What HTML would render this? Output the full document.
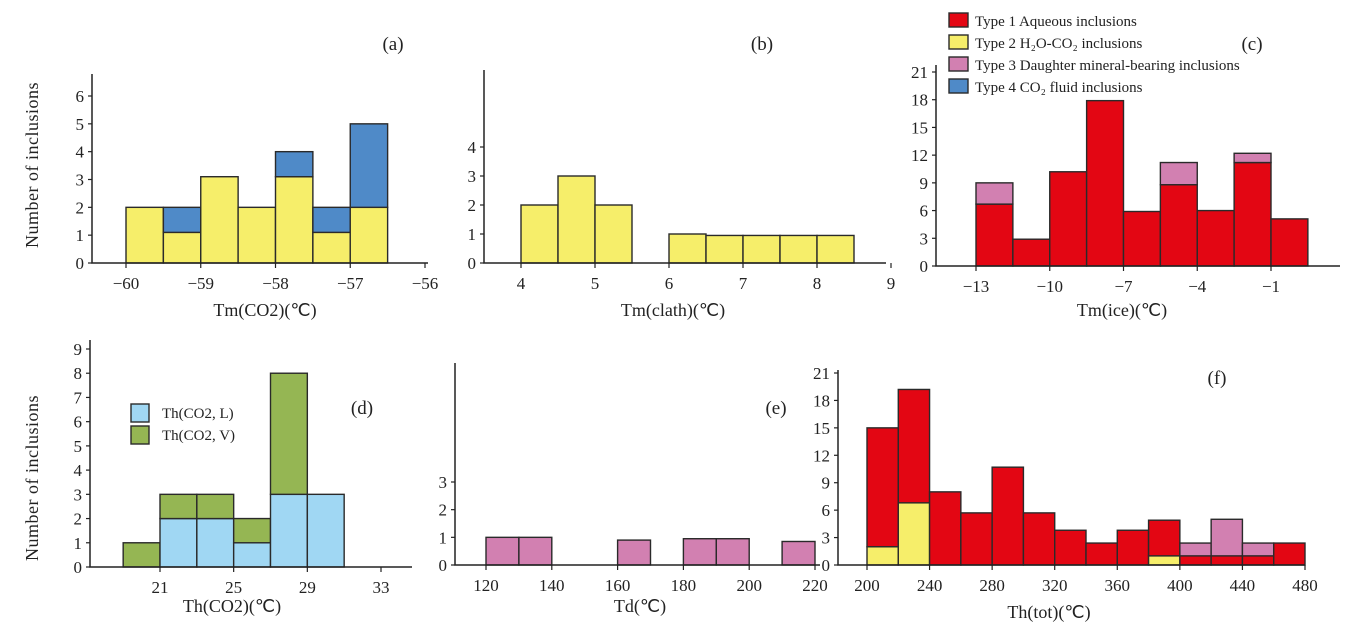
<!DOCTYPE html>
<html><head><meta charset="utf-8">
<style>
html,body{margin:0;padding:0;background:#fff;width:1366px;height:630px;overflow:hidden}
svg text{font-family:"Liberation Serif",serif;fill:#222}
</style></head>
<body>
<svg id="fig" width="1366" height="630" viewBox="0 0 1366 630" xmlns="http://www.w3.org/2000/svg">
<rect width="1366" height="630" fill="#fff"/>
</svg>
<script>
// ---------- DATA ----------
// (a) Tm(CO2)
const aBins = [-60,-59.5,-59,-58.5,-58,-57.5,-57];
const aType2 = [2,1.1,3.1,2,3.1,1.1,2];
const aType4 = [0,0.9,0,0,0.9,0.9,3];
const aXTicks = [-60,-59,-58,-57,-56];
const aYTicks = [0,1,2,3,4,5,6];
// (b) Tm(clath)
const bBins = [4,4.5,5,6,6.5,7,7.5,8];
const bType2 = [2,3,2,1,0.95,0.95,0.95,0.95];
const bXTicks = [4,5,6,7,8,9];
const bYTicks = [0,1,2,3,4];
// (c) Tm(ice)
const cBins = [-13,-11.5,-10,-8.5,-7,-5.5,-4,-2.5,-1];
const cType1 = [6.7,2.9,10.2,17.9,5.9,8.8,6,11.2,5.1];
const cType3 = [2.3,0,0,0,0,2.4,0,1,0];
const cXTicks = [-13,-10,-7,-4,-1];
const cYTicks = [0,3,6,9,12,15,18,21];
// (d) Th(CO2)
const dBins = [19,21,23,25,27,29];
const dLiquid = [0,2,2,1,3,3];
const dVapor = [1,1,1,1,5,0];
const dXTicks = [21,25,29,33];
const dYTicks = [0,1,2,3,4,5,6,7,8,9];
// (e) Td
const eBins = [120,130,160,180,190,210];
const eType3 = [1,1,0.9,0.95,0.95,0.85];
const eXTicks = [120,140,160,180,200,220];
const eYTicks = [0,1,2,3];
// (f) Th(tot)
const fBins = [200,220,240,260,280,300,320,340,360,380,400,420,440,460];
const fType2 = [2,6.8,0,0,0,0,0,0,0,1,0,0,0,0];
const fType1 = [13,12.4,8,5.7,10.7,5.7,3.8,2.4,3.8,3.9,1,1,1,2.4];
const fType3 = [0,0,0,0,0,0,0,0,0,0,1.4,4,1.4,0];
const fXTicks = [200,240,280,320,360,400,440,480];
const fYTicks = [0,3,6,9,12,15,18,21];

const C = {red:'#e30613',yellow:'#f6ee6a',pink:'#d280b1',blue:'#4f8ac8',lblue:'#a0d7f3',green:'#95b653',stroke:'#2a2a2a'};
const svg = document.getElementById('fig');
const NS='http://www.w3.org/2000/svg';
function el(tag, attrs, parent){
  const e=document.createElementNS(NS,tag);
  for(const k in attrs) e.setAttribute(k,attrs[k]);
  (parent||svg).appendChild(e); return e;
}
function txt(s,x,y,size,anchor,parent){
  const t=el('text',{x:x,y:y,'font-size':size,'text-anchor':anchor||'middle'},parent);
  t.textContent=s; return t;
}
function fmt(v){return v<0?'\u2212'+Math.abs(v):String(v);}

function panel(id, cfg){
  const g=el('g',{});
  
  
  const xs=v=>cfg.x0px+(v-cfg.x0)*(cfg.x1px-cfg.x0px)/(cfg.x1-cfg.x0);
  const ys=v=>cfg.base-(v)*(cfg.base-cfg.ytopPx)/cfg.ytop;
  // bars
  cfg.bins.forEach((b,i)=>{
    let acc=0;
    cfg.series.forEach(s=>{
      const v=s.vals[i]; if(!v) return;
      const r=el('rect',{x:xs(b),y:ys(acc+v),width:xs(b+cfg.bw)-xs(b),height:ys(acc)-ys(acc+v),fill:s.color,stroke:C.stroke,'stroke-width':1.4},g);
      
      
      acc+=v;
    });
  });
  // axes
  const ax=el('path',{d:`M${cfg.axX},${cfg.axTop} L${cfg.axX},${cfg.base} L${cfg.axRight},${cfg.base}`,fill:'none',stroke:'#222','stroke-width':1.5},g);
  
  
  cfg.yTicks.forEach(v=>{
    const y=ys(v);
    el('line',{x1:cfg.axX-4,x2:cfg.axX,y1:y,y2:y,stroke:'#222','stroke-width':1.2},g);
    const t=txt(String(v),cfg.axX-8,y+6,17,'end',g);
    
    
  });
  cfg.xTicks.forEach(v=>{
    const x=xs(v);
    el('line',{x1:x,x2:x,y1:cfg.base,y2:cfg.base+5,stroke:'#222','stroke-width':1.2},g);
    const t=txt(fmt(v),x,cfg.base+26,17,'middle',g);
    
    
  });
  const xt=txt(cfg.xTitle,cfg.titleX,cfg.titleY,18,'middle',g);
  
  
  const pl=txt(cfg.label,cfg.labX,cfg.labY,19,'middle',g);
  
  
}

panel('a',{bins:aBins,bw:0.5,series:[{name:'type2',vals:aType2,color:C.yellow},{name:'type4',vals:aType4,color:C.blue}],
  x0:-60,x1:-56,x0px:126,x1px:425,ytop:6,ytopPx:96,base:263,axX:92,axTop:74,axRight:428,
  xTicks:aXTicks,yTicks:aYTicks,xTitle:'Tm(CO2)(\u2103)',titleX:265,titleY:316,label:'(a)',labX:393,labY:50});
panel('b',{bins:bBins,bw:0.5,series:[{name:'type2',vals:bType2,color:C.yellow}],
  x0:4,x1:9,x0px:521,x1px:891,ytop:4,ytopPx:147,base:263,axX:484,axTop:70,axRight:886,
  xTicks:bXTicks,yTicks:bYTicks,xTitle:'Tm(clath)(\u2103)',titleX:673,titleY:316,label:'(b)',labX:762,labY:50});
panel('c',{bins:cBins,bw:1.5,series:[{name:'type1',vals:cType1,color:C.red},{name:'type3',vals:cType3,color:C.pink}],
  x0:-13,x1:-1,x0px:976,x1px:1271,ytop:21,ytopPx:72,base:266,axX:936,axTop:65,axRight:1340,
  xTicks:cXTicks,yTicks:cYTicks,xTitle:'Tm(ice)(\u2103)',titleX:1122,titleY:316,label:'(c)',labX:1252,labY:50});
panel('d',{bins:dBins,bw:2,series:[{name:'liquid',vals:dLiquid,color:C.lblue},{name:'vapor',vals:dVapor,color:C.green}],
  x0:21,x1:33,x0px:160,x1px:381,ytop:9,ytopPx:349,base:567,axX:90,axTop:340,axRight:412,
  xTicks:dXTicks,yTicks:dYTicks,xTitle:'Th(CO2)(\u2103)',titleX:232,titleY:612,label:'(d)',labX:362,labY:414});
panel('e',{bins:eBins,bw:10,series:[{name:'type3',vals:eType3,color:C.pink}],
  x0:120,x1:220,x0px:486,x1px:815,ytop:3,ytopPx:482,base:565,axX:455,axTop:363,axRight:820,
  xTicks:eXTicks,yTicks:eYTicks,xTitle:'Td(\u2103)',titleX:640,titleY:612,label:'(e)',labX:776,labY:414});
panel('f',{bins:fBins,bw:20,series:[{name:'type2',vals:fType2,color:C.yellow},{name:'type1',vals:fType1,color:C.red},{name:'type3',vals:fType3,color:C.pink}],
  x0:200,x1:480,x0px:867,x1px:1305,ytop:21,ytopPx:373,base:565,axX:838,axTop:370,axRight:1305,
  xTicks:fXTicks,yTicks:fYTicks,xTitle:'Th(tot)(\u2103)',titleX:1049,titleY:618,label:'(f)',labX:1217,labY:384});

// y-axis titles
[165,478].forEach(cy=>{
  const t=el('text',{x:0,y:0,'font-size':18,'text-anchor':'middle',transform:`translate(38,${cy}) rotate(-90)`,'letter-spacing':'0.5'});
  t.textContent='Number of inclusions';
  
  
});

// legend (top)
const legItems=[['Type 1 Aqueous inclusions',C.red],['Type 2 H\u2082O-CO\u2082 inclusions',C.yellow],['Type 3 Daughter mineral-bearing inclusions',C.pink],['Type 4 CO\u2082 fluid inclusions',C.blue]];
const lg=el('g',{});


legItems.forEach((it,i)=>{
  const y=13+i*22;
  el('rect',{x:949,y:y,width:19,height:14,fill:it[1],stroke:C.stroke,'stroke-width':1.4},lg);
  const t=txt(it[0],975,y+13,15,'start',lg);
  
  
});
// legend (d)
const lg2=el('g',{});


[['Th(CO2, L)',C.lblue],['Th(CO2, V)',C.green]].forEach((it,i)=>{
  const y=404+i*22;
  el('rect',{x:131,y:y,width:18,height:18,fill:it[1],stroke:C.stroke,'stroke-width':1.4},lg2);
  const t=txt(it[0],162,y+14,15,'start',lg2);
  
  
});
</script>
</body></html>
